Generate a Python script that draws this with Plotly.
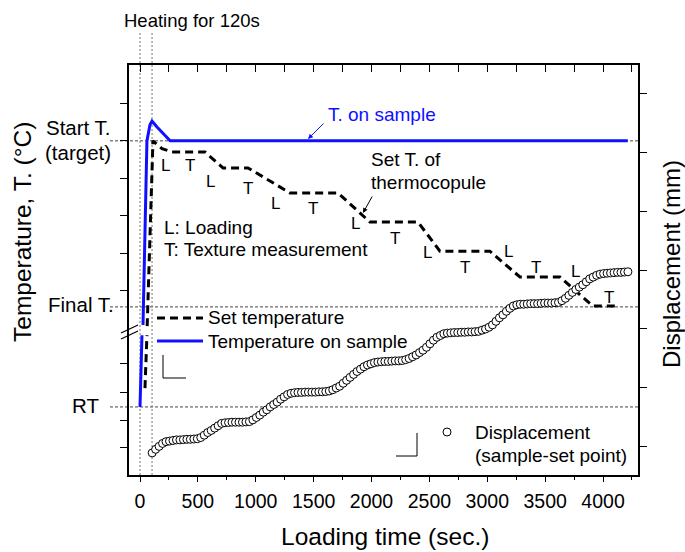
import plotly.graph_objects as go

# ---------------- data ----------------
# Left axis: temperature in arbitrary axis units (no numeric scale shown); None marks the axis break
sample_time = [0, 9, 17, None, 26, 35, 43, 60, 86, 104, 147, 199, 260, 4214]
sample_temp = [16.6, 25.6, 34.1, None, 36.6, 47.6, 62.2, 81.5, 85.4, 86.3, 84.9, 83.4, 81.5, 81.5]

set_time = [43, 60, None, 62, 69, 86, 95, 112, 190, 276, 561, 717, 933, 1295, 1710,
            1986, 2401, 2591, 3022, 3282, 3627, 3912, 4145]
set_temp = [21.2, 34.1, None, 36.3, 42.7, 62.2, 71.2, 81.5, 79.6, 78.8, 78.8, 74.9, 74.9,
            68.8, 68.8, 61.7, 61.7, 54.6, 54.6, 48.3, 48.3, 41.2, 41.2]

# Right axis: displacement (arbitrary units, one tick = 1), sampled every 30 s
disp_time = list(range(105, 4216, 30))
disp_val = [
    -0.10, -0.04, 0.01, 0.06, 0.09, 0.10, 0.11, 0.12, 0.12, 0.125,
    0.13, 0.13, 0.135, 0.14, 0.16, 0.20, 0.245, 0.28, 0.32, 0.36,
    0.40, 0.41, 0.415, 0.42, 0.42, 0.42, 0.42, 0.425, 0.43, 0.46,
    0.50, 0.54, 0.59, 0.63, 0.68, 0.72, 0.76, 0.81, 0.85, 0.89,
    0.91, 0.92, 0.925, 0.925, 0.93, 0.93, 0.93, 0.93, 0.935, 0.935,
    0.94, 0.95, 0.97, 1.00, 1.03, 1.08, 1.13, 1.18, 1.23, 1.28,
    1.32, 1.36, 1.39, 1.41, 1.43, 1.44, 1.445, 1.45, 1.45, 1.455,
    1.46, 1.46, 1.465, 1.48, 1.50, 1.53, 1.56, 1.60, 1.64, 1.69,
    1.75, 1.81, 1.86, 1.89, 1.92, 1.93, 1.935, 1.94, 1.94, 1.945,
    1.945, 1.95, 1.95, 1.955, 1.96, 1.98, 2.00, 2.03, 2.07, 2.13,
    2.19, 2.24, 2.30, 2.35, 2.39, 2.41, 2.42, 2.42, 2.425, 2.43,
    2.43, 2.43, 2.435, 2.44, 2.44, 2.44, 2.445, 2.45, 2.48, 2.52,
    2.57, 2.62, 2.67, 2.71, 2.75, 2.80, 2.85, 2.88, 2.91, 2.93,
    2.94, 2.945, 2.95, 2.955, 2.96, 2.96, 2.965, 2.97,
]

x_ticks = [0, 500, 1000, 1500, 2000, 2500, 3000, 3500, 4000]
x_tick_labels = ["0", "500", "1000", "1500", "2000", "2500", "3000", "3500", "4000"]
left_ticks = [6.6, 13.4, 20.2, 27.3, 44.9, 54.1, 63.2, 72.4, 81.5, 90.7]
right_ticks = [0, 1, 2, 3, 4, 5, 6]
start_T, final_T, room_T = 81.5, 41.0, 16.6
heating_end = 104

# ---------------- layout helpers ----------------
W, H = 685, 552
ML, MR, MT, MB = 129, 47, 65, 77
PW, PH = W - ML - MR, H - MT - MB
FONT = "Liberation Sans, Arial, sans-serif"


def px(x):
    return (x - ML) / PW


def py(y):
    return (H - MB - y) / PH


fig = go.Figure()

fig.add_trace(go.Scatter(
    x=disp_time, y=disp_val, xaxis="x", yaxis="y2", mode="markers",
    marker=dict(symbol="circle", size=8, color="white", line=dict(color="black", width=1)),
    showlegend=False, hoverinfo="skip"))
fig.add_trace(go.Scatter(
    x=set_time, y=set_temp, mode="lines", connectgaps=False,
    line=dict(color="black", width=3, dash="8px,5px"), showlegend=False))
fig.add_trace(go.Scatter(
    x=sample_time, y=sample_temp, mode="lines", connectgaps=False,
    line=dict(color="#1010ff", width=3), showlegend=False))
# dummy trace so the top axis exists
fig.add_trace(go.Scatter(x=[None], y=[None], xaxis="x2", yaxis="y", showlegend=False))

shapes = []
line_gray = dict(color="#444", width=1, dash="3px,2px")
for v in (start_T, final_T, room_T):
    shapes.append(dict(type="line", xref="paper", yref="y", x0=px(110), x1=1, y0=v, y1=v,
                       line=line_gray, layer="below"))
for t in (0, heating_end):
    shapes.append(dict(type="line", xref="x", yref="paper", x0=t, x1=t, y0=0, y1=py(33),
                       line=dict(color="#777", width=1, dash="2px,2px"), layer="below"))
# axis break marks
for dy in (0, 6):
    shapes.append(dict(type="line", xref="paper", yref="paper",
                       x0=px(121), y0=py(333 + dy), x1=px(138), y1=py(325 + dy),
                       line=dict(color="black", width=1.2)))
# legend samples
shapes.append(dict(type="line", xref="paper", yref="paper", x0=px(157), x1=px(203),
                   y0=py(318), y1=py(318), line=dict(color="black", width=3, dash="8px,5px")))
shapes.append(dict(type="line", xref="paper", yref="paper", x0=px(157), x1=px(203),
                   y0=py(341), y1=py(341), line=dict(color="#1010ff", width=3)))
shapes.append(dict(type="circle", xref="paper", yref="paper", x0=px(443), x1=px(451),
                   y0=py(428), y1=py(436), line=dict(color="black", width=1), fillcolor="white"))
# legend-box corners
corner = dict(color="black", width=1)
shapes += [
    dict(type="line", xref="paper", yref="paper", x0=px(163), x1=px(163), y0=py(355), y1=py(378), line=corner),
    dict(type="line", xref="paper", yref="paper", x0=px(163), x1=px(186), y0=py(378), y1=py(378), line=corner),
    dict(type="line", xref="paper", yref="paper", x0=px(396), x1=px(417), y0=py(456), y1=py(456), line=corner),
    dict(type="line", xref="paper", yref="paper", x0=px(417), x1=px(417), y0=py(433), y1=py(456), line=corner),
]

ann = []


def text(x, y, s, size=19, anchor="left", color="black", angle=0):
    ann.append(dict(x=px(x), y=py(y), xref="paper", yref="paper", text=s, showarrow=False,
                    xanchor=anchor, yanchor="middle", textangle=angle,
                    font=dict(family=FONT, size=size, color=color)))


text(122, 21, "Heating for 120s", 18.5)
text(113, 127, "Start T.", 20.5, "right")
text(113, 152, "(target)", 20.5, "right")
text(116, 304, "Final T.", 20.5, "right")
text(101, 405, "RT", 20.5, "right")
text(22, 232, "Temperature, T. (°C)", 24.5, "center", angle=-90)
text(671, 264, "Displacement (mm)", 24, "center", angle=-90)
text(385, 536, "Loading time (sec.)", 24.5, "center")
text(326, 114, "T. on sample", 19, "left", color="#1010ff")
text(369, 159, "Set T. of", 19)
text(369, 182, "thermocopule", 19)
text(162, 227, "L: Loading", 19)
text(162, 250, "T: Texture measurement", 19)
text(206, 317, "Set temperature", 19)
text(206, 341, "Temperature on sample", 19)
text(473, 432, "Displacement", 19)
text(473, 455, "(sample-set point)", 19)

for (x, y, s) in [(165, 165, "L"), (190, 165, "T"), (210, 181, "L"), (248, 188, "T"),
                  (275, 203, "L"), (313, 208, "T"), (355, 223, "L"), (395, 238, "T"),
                  (427, 253, "L"), (465, 267, "T"), (508, 252, "L"), (536, 267, "T"),
                  (575, 271, "L"), (609, 297, "T")]:
    text(x, y, s, 17, "center")

# arrows
ann.append(dict(x=px(308), y=py(139), xref="paper", yref="paper", ax=17, ay=-17, text="",
                showarrow=True, arrowhead=2, arrowsize=1, arrowwidth=1, arrowcolor="#1010ff"))
ann.append(dict(x=px(363), y=py(213), xref="paper", yref="paper", ax=10, ay=-18, text="",
                showarrow=True, arrowhead=2, arrowsize=1, arrowwidth=1, arrowcolor="black"))

x_range = [-95, 4302]
fig.update_layout(
    width=W, height=H, margin=dict(l=ML, r=MR, t=MT, b=MB, pad=0),
    paper_bgcolor="white", plot_bgcolor="white", showlegend=False,
    font=dict(family=FONT, color="black"),
    xaxis=dict(range=x_range, tickvals=x_ticks, ticktext=x_tick_labels, ticks="outside",
               ticklen=5, tickwidth=1.2, tickcolor="black", showline=True, linecolor="black",
               linewidth=1.5, showgrid=False, zeroline=False, tickfont=dict(size=19.5),
               ticklabelstandoff=3,
               minor=dict(tickvals=[250, 750, 1250, 1750, 2250, 2750, 3250, 3750, 4250],
                          ticks="outside", ticklen=3, tickcolor="black", tickwidth=1.2, showgrid=False)),
    xaxis2=dict(range=x_range, overlaying="x", side="top", tick0=0, dtick=250, ticks="inside",
                ticklen=7, tickwidth=1.2, tickcolor="black", showticklabels=False, showline=True,
                linecolor="black", linewidth=1.5, showgrid=False, zeroline=False),
    yaxis=dict(range=[0, 100], tickvals=left_ticks, showticklabels=False, ticks="outside",
               ticklen=7, tickwidth=1.2, tickcolor="black", showline=True, linecolor="black",
               linewidth=1.5, showgrid=False, zeroline=False),
    yaxis2=dict(range=[-0.475, 6.475], overlaying="y", side="right", tickvals=right_ticks,
                showticklabels=False, ticks="outside", ticklen=7, tickwidth=1.2, tickcolor="black",
                showline=True, linecolor="black", linewidth=1.5, showgrid=False, zeroline=False),
    shapes=shapes, annotations=ann,
)

fig.write_html("out.html")
